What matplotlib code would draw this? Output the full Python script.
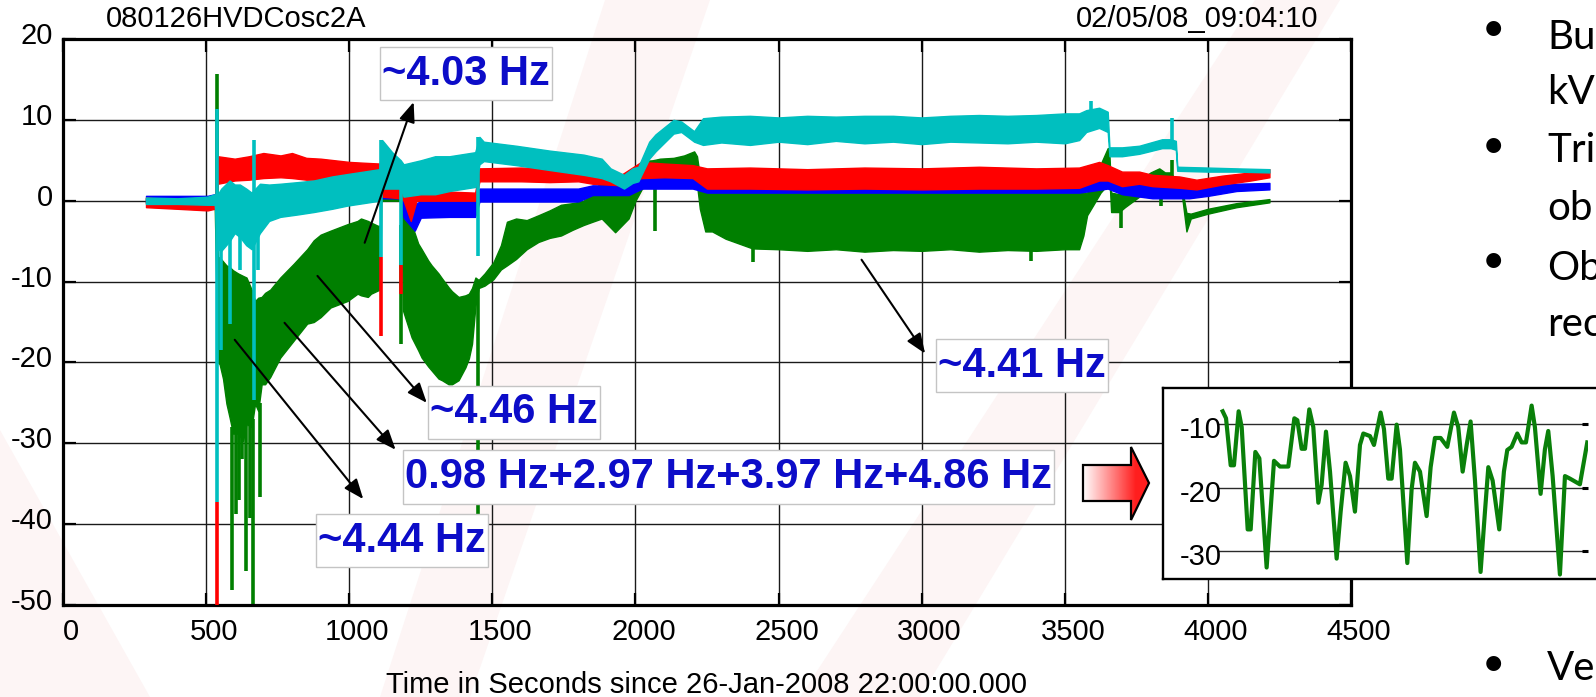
import numpy as np
import matplotlib
matplotlib.use("Agg")
import matplotlib.pyplot as plt
from matplotlib.patches import Polygon
from matplotlib.path import Path
from matplotlib.transforms import ScaledTranslation

plt.rcParams['font.family'] = ['Liberation Sans', 'DejaVu Sans']
plt.rcParams['axes.unicode_minus'] = False

W, H, DPI = 1596, 697, 100

# ---------------- data ----------------
x_ticks = [0, 500, 1000, 1500, 2000, 2500, 3000, 3500, 4000, 4500]
y_ticks = [-50, -40, -30, -20, -10, 0, 10, 20]

# envelopes: (time s, lower value, upper value)
green_env = [
    (290, -0.3, 0.3), (505, -0.5, 0.3), (530, -0.5, 0.5),
    (541, -20.0, -7.0), (547, -20.2, -7.0), (559, -22.0, -7.5), (571, -25.1, -8.0), (582, -26.8, -8.2),
    (594, -28.8, -8.6), (612, -28.8, -9.0), (629, -29.7, -9.3), (641, -27.6, -9.5), (659, -28.0, -11.0),
    (671, -25.1, -12.4), (682, -26.0, -12.0), (694, -22.7, -11.9), (706, -22.7, -11.4), (724, -21.8, -11.0),
    (759, -19.4, -9.5), (806, -17.3, -7.8), (853, -15.2, -6.0), (876, -15.0, -4.9), (900, -14.4, -4.2),
    (935, -13.2, -3.7), (994, -12.4, -2.9), (1029, -11.5, -2.5), (1041, -11.7, -2.2), (1065, -11.9, -2.5),
    (1076, -11.5, -2.7), (1100, -11.1, -3.1), (1108, -11.0, -3.1),
    (1112, 0.0, 1.5), (1183, 0.0, 1.5),
    (1188, -13.6, -2.0), (1218, -16.9, -2.9), (1241, -18.5, -5.3), (1253, -19.4, -6.0), (1276, -20.5, -7.4),
    (1288, -21.0, -8.0), (1312, -22.0, -9.0), (1324, -22.2, -9.6), (1347, -22.7, -10.7), (1359, -22.7, -11.2),
    (1382, -22.2, -11.9), (1406, -20.6, -11.7), (1418, -19.5, -11.5), (1429, -17.7, -10.8), (1441, -13.0, -9.5),
    (1452, -10.8, -9.8), (1473, -10.5, -9.0), (1504, -9.7, -7.6), (1530, -8.5, -5.5), (1551, -8.0, -2.6),
    (1583, -7.2, -2.2), (1620, -6.0, -2.4), (1661, -5.1, -1.8), (1700, -4.6, -1.2), (1740, -4.3, -0.5),
    (1780, -3.6, -0.3), (1819, -3.0, 0.0), (1850, -2.6, 1.0), (1882, -2.2, 2.4), (1929, -3.9, 2.0),
    (1976, -2.2, 2.4), (2000, 0.0, 3.5), (2023, 1.5, 4.9), (2060, 2.2, 5.0), (2086, 2.8, 5.2),
    (2133, 3.2, 5.3), (2170, 3.4, 5.6), (2205, 3.6, 6.1), (2215, 2.0, 5.5), (2225, -1.0, 3.0),
    (2244, -3.8, 1.7), (2268, -3.8, 1.7), (2315, -4.7, 1.7), (2362, -5.3, 1.7), (2409, -5.9, 1.7),
    (2500, -6.0, 1.8), (2600, -6.2, 1.7), (2700, -6.0, 1.8), (2800, -6.3, 1.7), (2900, -6.1, 1.8),
    (3000, -6.2, 1.7), (3100, -6.0, 1.8), (3200, -6.3, 1.7), (3300, -6.1, 1.8), (3400, -6.2, 1.7),
    (3500, -6.0, 1.8), (3550, -6.0, 1.7),
    (3565, -4.3, 1.0), (3578, -1.8, 1.0), (3600, -0.5, 2.5), (3625, 1.0, 4.5), (3650, 2.0, 6.5), (3655, 3.5, 6.5),
    (3662, -1.4, 1.0), (3690, -1.4, 0.8), (3710, -0.8, 1.5), (3760, 0.5, 2.5), (3800, 1.5, 3.5),
    (3830, 3.0, 4.0), (3850, 2.0, 3.5), (3870, 2.0, 3.5), (3890, 0.8, 2.3), (3910, 0.5, 1.5),
    (3925, -3.8, -1.5), (3940, -2.2, -1.6), (4000, -1.6, -1.0), (4100, -0.8, -0.3), (4215, -0.2, 0.2),
]
green_spikes = [
    (537, 0.0, 15.7), (592, -28.0, -48.2), (606, -28.0, -38.7), (615, -28.0, -37.0), (624, -28.0, -32.0),
    (641, -27.0, -45.8), (653, -27.0, -39.2), (665, -27.0, -50.5), (688, -25.0, -36.7), (1182, -3.0, -17.7),
    (1449, -10.0, -38.7), (2070, 2.0, -3.8), (2409, -5.0, -7.6), (3382, -6.0, -7.4), (3696, -1.0, -3.4),
    (3835, 3.0, -0.7), (3876, 2.0, 5.0),
]

blue_env = [
    (290, -0.2, 0.6), (505, -0.2, 0.6), (530, 0.0, 0.8), (1105, 0.3, 1.5), (1115, 0.3, 1.3), (1180, 0.3, 1.3),
    (1190, -2.1, 0.0), (1229, -3.7, -0.5), (1250, -2.1, 0.0), (1350, -2.0, 0.0), (1440, -2.0, 0.0),
    (1455, -0.1, 1.5), (1800, -0.1, 1.5), (1850, 0.7, 1.9), (1976, 0.7, 1.9), (2023, 1.5, 2.8), (2200, 1.5, 2.8),
    (2250, 1.0, 2.4), (3550, 1.0, 2.4), (3650, 1.5, 2.4), (3700, 0.8, 2.2), (3806, 0.3, 1.8), (3935, 0.3, 1.6),
    (4000, 0.6, 1.8), (4100, 1.2, 2.1), (4215, 1.4, 2.2),
]

red_env = [
    (290, -0.8, 0.4), (400, -1.0, 0.0), (505, -1.2, -0.3), (530, -1.0, 0.0),
    (541, 2.1, 5.5), (600, 2.5, 5.2), (650, 2.6, 5.5), (700, 2.8, 5.9), (760, 2.9, 5.6), (800, 2.8, 5.9),
    (850, 2.6, 5.3), (900, 2.6, 5.2), (950, 2.5, 5.0), (1000, 2.4, 4.8), (1050, 2.3, 4.7), (1105, 2.2, 4.6),
    (1115, 0.5, 2.9), (1180, 0.3, 2.5),
    (1190, 0.0, 1.0), (1215, -2.5, 1.0), (1235, 0.0, 1.0), (1300, 0.0, 1.2), (1440, 0.0, 1.0),
    (1455, 2.4, 4.0), (1600, 2.4, 4.1), (1700, 2.3, 4.0), (1800, 2.4, 4.0), (1850, 2.1, 3.6), (1950, 1.9, 3.2),
    (2020, 2.8, 4.8), (2100, 2.9, 4.6), (2200, 2.8, 4.4),
    (2250, 1.5, 4.0), (2400, 1.5, 4.1), (2600, 1.4, 3.9), (2800, 1.5, 4.1), (3000, 1.4, 4.0), (3200, 1.5, 4.2),
    (3400, 1.5, 4.0), (3550, 1.6, 4.1),
    (3620, 2.5, 4.8), (3650, 2.5, 4.4), (3700, 1.8, 3.6), (3760, 2.1, 3.6), (3806, 1.8, 3.2), (3900, 1.6, 3.0),
    (3960, 1.4, 2.6), (4050, 2.0, 3.1), (4150, 2.5, 3.5), (4215, 2.9, 3.9),
]
red_spikes = [(537, -50.5, -37.3), (1112, -16.7, -7.0), (1182, -11.5, -8.0)]

cyan_env = [
    (290, -0.4, 0.4), (400, -0.4, 0.3), (505, -0.5, 0.5), (530, -0.5, 0.8),
    (541, -6.0, 0.8), (553, -6.2, 1.5), (582, -5.0, 2.5), (600, -4.0, 2.0), (618, -4.5, 2.0), (640, -5.5, 1.5),
    (659, -6.0, 1.0), (688, -4.0, 2.1), (720, -2.5, 2.0), (759, -2.0, 2.1), (820, -1.7, 2.3), (876, -1.4, 2.5),
    (940, -1.0, 3.0), (994, -0.6, 3.3), (1050, -0.3, 3.6), (1105, 0.0, 3.9),
    (1115, 1.5, 7.5), (1150, 1.5, 6.0), (1180, 1.5, 5.0),
    (1190, 0.5, 4.5), (1250, 0.8, 5.0), (1300, 0.8, 5.5), (1350, 1.2, 5.5), (1440, 1.7, 6.0),
    (1455, 4.5, 7.9), (1470, 4.9, 7.3), (1583, 4.4, 6.8), (1700, 3.8, 6.2), (1819, 3.2, 5.7), (1882, 2.8, 5.2),
    (1913, 2.4, 4.0), (1960, 1.5, 3.2), (1990, 2.2, 4.0), (2010, 2.4, 4.2), (2048, 5.2, 7.3), (2070, 6.1, 8.2),
    (2133, 8.3, 10.0), (2160, 8.5, 9.8), (2205, 7.3, 8.6), (2236, 6.9, 10.2),
    (2300, 7.2, 10.4), (2400, 6.9, 10.5), (2500, 7.3, 10.3), (2600, 7.0, 10.5), (2700, 7.4, 10.4),
    (2800, 7.1, 10.5), (2900, 7.3, 10.5), (3000, 7.0, 10.3), (3100, 7.3, 10.5), (3200, 7.2, 10.6),
    (3300, 7.1, 10.5), (3400, 7.3, 10.6), (3500, 7.1, 10.8), (3550, 7.5, 10.8),
    (3575, 8.5, 11.2), (3620, 9.0, 11.5), (3650, 8.5, 11.0),
    (3656, 5.5, 6.6), (3700, 5.5, 6.6), (3760, 5.8, 6.8), (3840, 6.5, 7.6), (3870, 6.5, 7.6), (3888, 6.3, 7.4),
    (3893, 3.7, 4.2), (4000, 3.6, 4.1), (4100, 3.6, 4.0), (4215, 3.5, 3.9),
]
cyan_spikes = [
    (537, -37.3, 11.3), (553, -18.5, 0.0), (582, -15.2, 0.0), (618, -8.6, 0.0), (666, -24.7, 7.5),
    (682, -8.6, 0.0), (1112, -7.0, 7.5), (1182, -8.0, 4.0), (1449, -6.8, 7.9), (3590, 10.0, 12.3),
    (3874, 6.5, 10.2),
]

# annotations: label, text-box centre (t, v), arrow start (t, v), arrow tip (t, v)
ann_labels = ['~4.03 Hz', '~4.46 Hz', '0.98 Hz+2.97 Hz+3.97 Hz+4.86 Hz', '~4.44 Hz', '~4.41 Hz']
ann_box = [(1409, 15.73), (1577, -26.19), (2324, -34.17), (1185, -42.06), (3349, -20.38)]
ann_from = [(1054, -5.2), (889, -9.3), (774, -15.1), (600, -17.2), (2790, -7.3)]
ann_to = [(1225, 12.2), (1271, -25.0), (1162, -30.8), (1049, -36.9), (3012, -18.9)]

# zoomed inset trace (seconds within window, value)
inset_t = [0.0, 0.046, 0.110, 0.155, 0.219, 0.261, 0.343, 0.384, 0.448, 0.503, 0.603, 0.704, 0.786, 0.900,
           0.983, 1.024, 1.083, 1.129, 1.188, 1.243, 1.312, 1.357, 1.417, 1.472, 1.563, 1.618, 1.686, 1.746,
           1.814, 1.883, 1.929, 2.020, 2.075, 2.166, 2.212, 2.271, 2.317, 2.386, 2.431, 2.532, 2.591, 2.637,
           2.706, 2.797, 2.852, 2.911, 2.989, 3.080, 3.172, 3.231, 3.291, 3.346, 3.400, 3.460, 3.537, 3.597,
           3.643, 3.702, 3.793, 3.857, 3.903, 3.962, 4.040, 4.100, 4.159, 4.237, 4.282, 4.360, 4.419, 4.465,
           4.525, 4.625, 4.694, 4.762, 4.899, 5.000]
inset_v = [-8.0, -9.1, -16.5, -16.5, -8.0, -10.5, -26.6, -26.6, -14.4, -15.4, -32.6, -15.8, -16.7, -16.7,
           -9.1, -9.4, -13.9, -13.9, -7.7, -10.5, -22.4, -19.6, -11.2, -17.5, -31.2, -23.8, -16.1, -18.2,
           -23.8, -13.3, -11.5, -11.9, -13.3, -8.2, -10.8, -18.6, -18.6, -10.1, -14.0, -31.9, -20.3, -16.1,
           -17.5, -24.5, -16.8, -12.2, -12.2, -13.6, -8.2, -10.5, -17.5, -13.3, -9.6, -18.9, -33.3, -23.8,
           -16.8, -18.9, -26.6, -17.5, -14.1, -13.6, -11.5, -12.9, -12.9, -7.1, -10.5, -21.0, -14.0, -11.1,
           -18.2, -33.7, -18.2, -18.6, -19.5, -12.9]
inset_ticks = [-30, -20, -10]

bullet_lines = [('Bu', 49), ('kV', 104), ('Tri', 162), ('ob', 220), ('Ob', 280), ('rec', 336), ('Ve', 680)]
bullet_marks = [31, 148, 263, 666]

# ---------------- figure ----------------
fig = plt.figure(figsize=(W / DPI, H / DPI), dpi=DPI)
fig.patch.set_facecolor('white')


def px_axes(l, t, r, b, z):
    return fig.add_axes([l / W, (H - b) / H, (r - l) / W, (b - t) / H], zorder=z)


def label_box(x0, y0, width, height, mutation_size):
    px, py = 0.05 * mutation_size, 0.16 * mutation_size
    x1, y1 = x0 + width + px, y0 + height + py
    x0, y0 = x0 - px, y0 - py
    return Path([(x0, y0), (x1, y0), (x1, y1), (x0, y1), (x0, y0)],
                [Path.MOVETO, Path.LINETO, Path.LINETO, Path.LINETO, Path.CLOSEPOLY])


# faint slide-background swooshes
bg = fig.add_axes([0, 0, 1, 1], zorder=0)
bg.set_xlim(0, W); bg.set_ylim(H, 0); bg.axis('off')
for poly in [[(605, 0), (710, 0), (470, 697), (380, 697)],
             [(1255, 0), (1340, 0), (920, 697), (800, 697)],
             [(0, 430), (0, 697), (150, 697)]]:
    bg.add_patch(Polygon(poly, closed=True, fc='#fdf5f5', ec='none'))

# main axes
ax = px_axes(63, 39, 1351, 605, 1)
ax.set_facecolor('none')
ax.set_xlim(0, 4500); ax.set_ylim(-50, 20)
ax.set_xticks(x_ticks); ax.set_yticks(y_ticks)
ax.grid(True, color='#1a1a1a', lw=1.0)
ax.set_axisbelow(True)
for s in ax.spines.values():
    s.set_linewidth(2.3)
ax.tick_params(direction='in', length=9, width=1.6, top=True, right=True, labelsize=21, colors='black')
ax.tick_params(axis='x', pad=9.0)
ax.tick_params(axis='y', pad=7.2)
offx = ScaledTranslation(8 / DPI, 0, fig.dpi_scale_trans)
offy = ScaledTranslation(0, 6 / DPI, fig.dpi_scale_trans)
for lab in ax.get_xticklabels():
    lab.set_transform(lab.get_transform() + offx)
for lab in ax.get_yticklabels():
    lab.set_transform(lab.get_transform() + offy)

series = [(green_env, green_spikes, '#007f00', 2),
          (blue_env, [], '#0000ff', 3),
          (red_env, red_spikes, '#ff0000', 4),
          (cyan_env, cyan_spikes, '#00bfbf', 5)]
for env, spikes, col, z in series:
    e = np.array(env, dtype=float)
    ax.fill_between(e[:, 0], e[:, 1], e[:, 2], facecolor=col, edgecolor=col, lw=1.0, zorder=z)
    if spikes:
        s = np.array(spikes, dtype=float)
        ax.vlines(s[:, 0], s[:, 1], s[:, 2], color=col, lw=2.6, zorder=z)

for lab, box, a0, a1 in zip(ann_labels, ann_box, ann_from, ann_to):
    ax.annotate('', xy=a1, xytext=a0,
                arrowprops=dict(arrowstyle='-|>,head_length=0.55,head_width=0.22', color='black',
                                lw=1.5, mutation_scale=22, shrinkA=0, shrinkB=0), zorder=9)
    ax.text(box[0], box[1], lab, ha='center', va='center', fontsize=30, fontweight='bold',
            color='#0c0cc8', zorder=10,
            bbox=dict(boxstyle=label_box, fc='white', ec='#c4c4c4', lw=1.0))

# header / footer texts
fig.text(106 / W, 1 - 27 / H, '080126HVDCosc2A', ha='left', va='baseline', fontsize=21)
fig.text(1318 / W, 1 - 27 / H, '02/05/08_09:04:10', ha='right', va='baseline', fontsize=21)
fig.text(707 / W, 1 - 693 / H, 'Time in Seconds since 26-Jan-2008 22:00:00.000', ha='center', va='baseline',
         fontsize=21)

# overlay: gradient block arrow
ov = fig.add_axes([0, 0, 1, 1], zorder=2)
ov.axis('off')
ov.patch.set_alpha(0)
arrow_poly = Polygon([(1083, 465), (1131, 465), (1131, 447), (1149, 483), (1131, 520), (1131, 501), (1083, 501)],
                     closed=True, fc='none', ec='black', lw=1.6, zorder=3)
frac = np.clip(np.linspace(0, 1.25, 256), 0, 1)
grad = np.ones((2, 256, 3))
grad[:, :, 1] = 1 - 0.88 * frac
grad[:, :, 2] = 1 - 0.88 * frac
im = ov.imshow(grad, extent=(1083, 1149, 520, 447), aspect='auto', zorder=2, interpolation='bilinear')
ov.add_patch(arrow_poly)
im.set_clip_path(arrow_poly)
ov.set_xlim(0, W); ov.set_ylim(H, 0)

# inset frame
axo = px_axes(1163, 388, 1650, 579, 3)
axo.set_facecolor('white')
axo.set_xticks([]); axo.set_yticks([])
for s in axo.spines.values():
    s.set_linewidth(1.7)

# inset plot area
axi = px_axes(1218, 388, 1588, 579, 4)
axi.set_facecolor('none')
for s in axi.spines.values():
    s.set_visible(False)
axi.set_xlim(-0.064, 5.01)
axi.set_ylim(-34.41, -4.33)
axi.set_xticks([])
axi.set_yticks(inset_ticks)
axi.grid(axis='y', color='#2a2a2a', lw=1.0)
axi.tick_params(axis='y', left=False, right=True, labelleft=True, direction='in', length=4, width=2.2,
                labelsize=21, pad=-2.9)
offi = ScaledTranslation(0, -3 / DPI, fig.dpi_scale_trans)
for lab in axi.get_yticklabels():
    lab.set_transform(lab.get_transform() + offi)
axi.plot(inset_t, inset_v, color='#0a800a', lw=3.0, solid_joinstyle='round', zorder=3)

# partial slide bullet text on the right
for y in bullet_marks:
    fig.text(1493 / W, 1 - (y + 10) / H, '\u2022', ha='center', va='baseline', fontsize=29,
             family=['Lato', 'DejaVu Sans'])
for txt, y in bullet_lines:
    fig.text(1547 / W, 1 - y / H, txt, ha='left', va='baseline', fontsize=29, family=['Lato', 'DejaVu Sans'])

fig.savefig('out.png', dpi=DPI, facecolor='white')
